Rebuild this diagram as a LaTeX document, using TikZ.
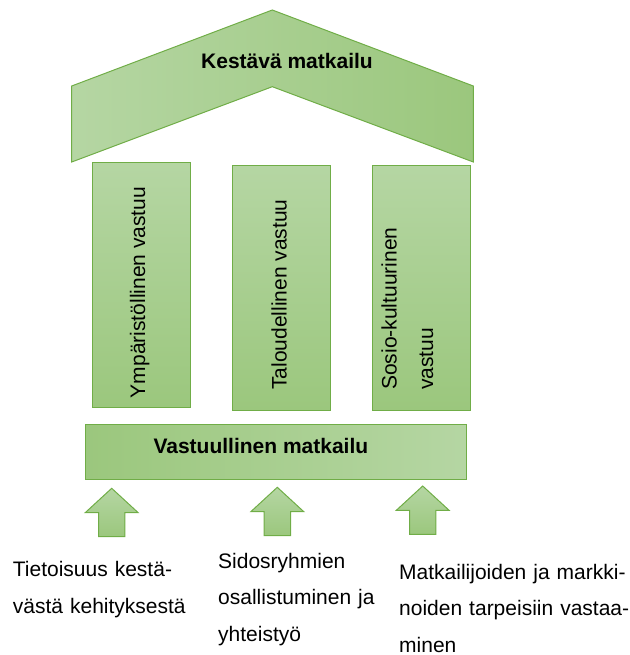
\documentclass[tikz,border=0pt]{standalone}
\usepackage{fontspec}
\setmainfont{Liberation Sans}
\definecolor{greenlight}{RGB}{181,214,163}
\definecolor{greendark}{RGB}{155,199,125}
\definecolor{greenline}{RGB}{112,173,71}
\begin{document}
\begin{tikzpicture}[x=1pt,y=-1pt,
  block/.style={draw=greenline,line width=1pt,line join=miter},
  horizlight/.style={block,left color=greenlight,right color=greendark},
  horizdark/.style={block,left color=greendark,right color=greenlight},
  vertshade/.style={block,top color=greenlight,bottom color=greendark},
  bigtext/.style={font=\fontsize{21}{36.5}\selectfont,inner sep=0pt},
  boldtext/.style={font=\fontsize{21}{25}\selectfont\bfseries,inner sep=0pt},
  pillartext/.style={bigtext,rotate=90,anchor=base west},
  lowtext/.style={bigtext,anchor=base west,align=left}]
\useasboundingbox (0,0) rectangle (629,655);

% roof
\draw[horizlight] (71.7,86) -- (272.3,10) -- (473.3,86) -- (473.3,162)
  -- (272.3,86.7) -- (71.7,162) -- cycle;
\node[boldtext,anchor=base] (roof) at (287,68.3) {Kestävä matkailu};

% pillars
\draw[vertshade] (92.7,162.7) rectangle (190.7,407.7);
\draw[vertshade] (232.7,165.3) rectangle (330.7,410);
\draw[vertshade] (372.7,165.3) rectangle (470.7,410);
\node[pillartext] (env) at (145,398.3) {Ympäristöllinen vastuu};
\node[pillartext] (eco) at (286.7,390) {Taloudellinen vastuu};
\node[pillartext,text width=180pt,align=left] (soc) at (396.7,390)
  {Sosio-kultuurinen\\vastuu};

% base
\draw[horizdark] (85,424) rectangle (466.7,479.3);
\node[boldtext,anchor=base west] (base) at (153.3,453) {Vastuullinen matkailu};

% block arrows pointing up into the base
\foreach \tx/\ty in {111.7/488.3, 277.3/487.3, 422.7/486}{
  \draw[vertshade] (\tx,\ty) -- ++(26.5,24.4) -- ++(-13.3,0) -- ++(0,24)
    -- ++(-26.4,0) -- ++(0,-24) -- ++(-13.3,0) -- cycle;
}

% captions
\node[lowtext,text width=200pt] (aware) at (12.7,576.7)
  {Tietoisuus kestä-\\västä kehityksestä};
\node[lowtext,text width=180pt] (stake) at (218,568)
  {Sidosryhmien\\osallistuminen ja\\yhteistyö};
\node[lowtext,text width=240pt] (needs) at (399,579)
  {\makebox[226pt][s]{Matkailijoiden ja markki-}\\
   \mbox{noiden tarpeisiin vastaa-}\\minen};
\end{tikzpicture}
\end{document}
